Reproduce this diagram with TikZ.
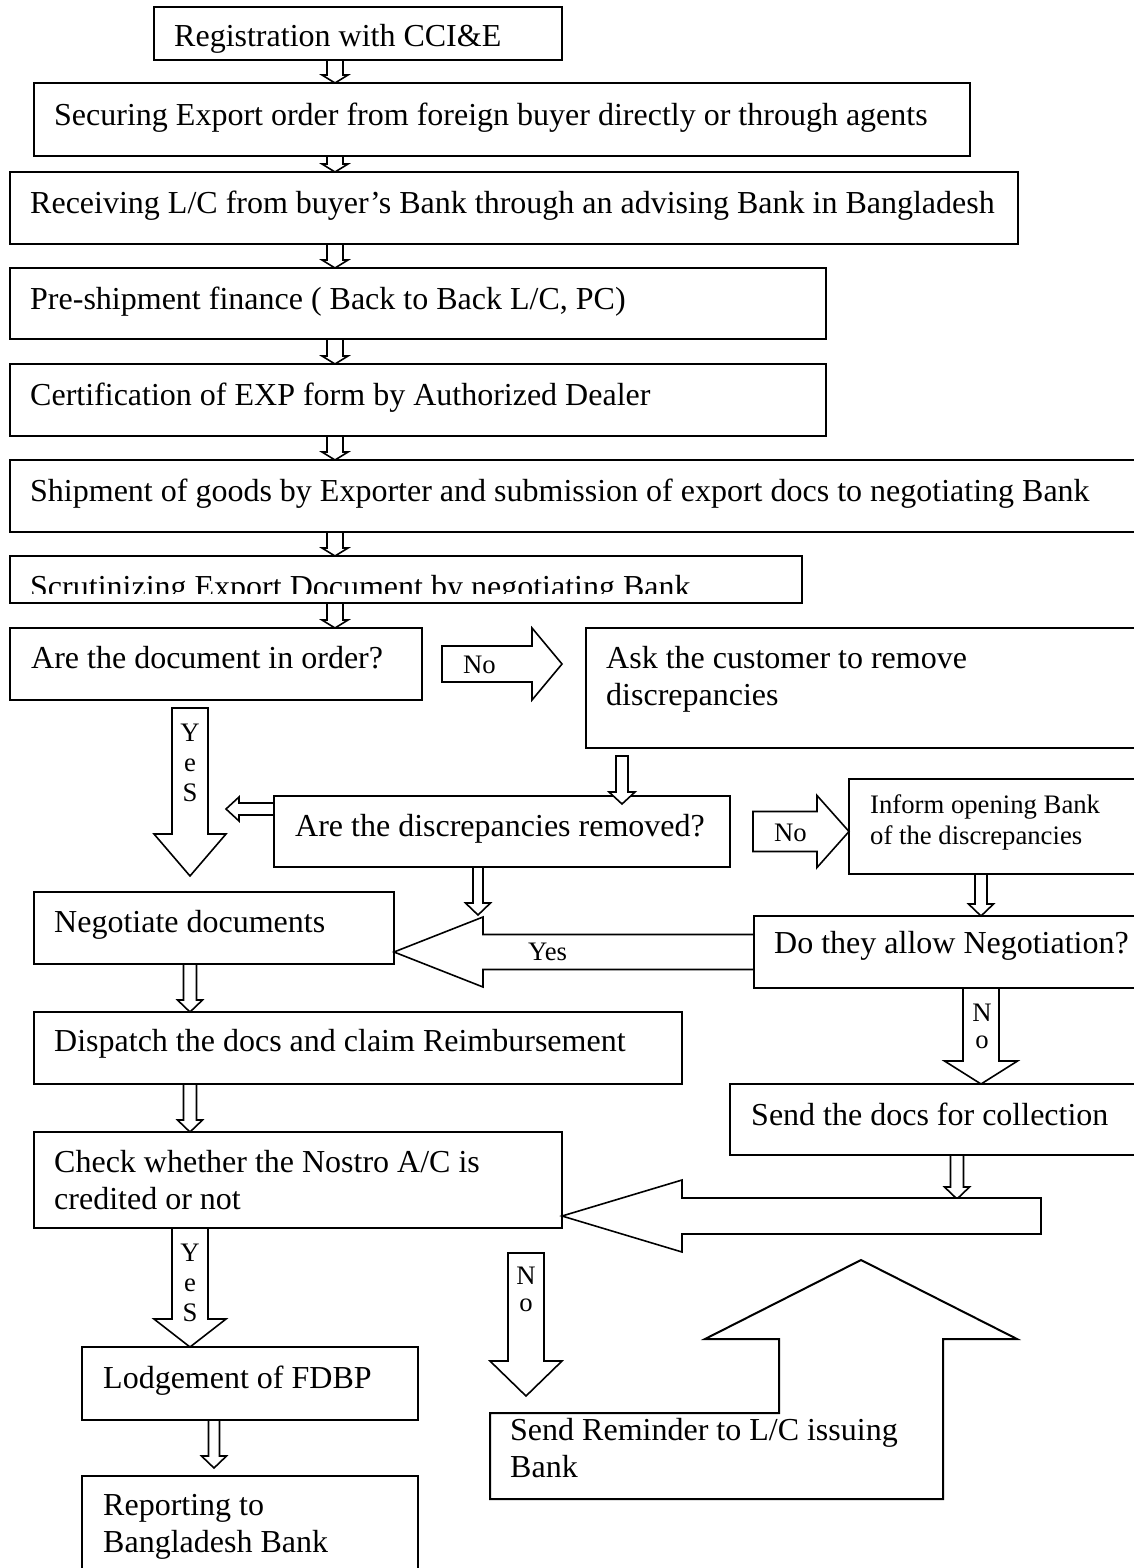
\documentclass[tikz,border=0pt]{standalone}
\usepackage{fontspec}
\setmainfont{Liberation Serif}
\usetikzlibrary{calc}
\newcommand{\mainsize}{\fontsize{32}{36.8}\selectfont}
\newcommand{\smallsize}{\fontsize{26.7}{30.7}\selectfont}
% hollow block arrow: from, to, shaft half width, head half width, head length
\newcommand{\blockarrow}[5]{%
  \coordinate (ba-a) at (#1);
  \coordinate (ba-b) at (#2);
  \coordinate (ba-h) at ($(ba-b)!#5!(ba-a)$);
  \filldraw[blockarrow] ($(ba-a)!#3!90:(ba-b)$) -- ($(ba-h)!#3!90:(ba-b)$)
    -- ($(ba-h)!#4!90:(ba-b)$) -- (ba-b) -- ($(ba-h)!#4!-90:(ba-b)$)
    -- ($(ba-h)!#3!-90:(ba-b)$) -- ($(ba-a)!#3!-90:(ba-b)$) -- cycle;}

\begin{document}
\begin{tikzpicture}[x=1pt, y=-1pt,
    stepbox/.style={draw, line width=2.4pt, rectangle, anchor=north west, inner sep=0pt, outer sep=0pt},
    steptext/.style={anchor=base west, inner sep=0pt, align=left, font=\mainsize},
    arrowtext/.style={inner sep=0pt, font=\smallsize},
    stacked/.style={arrowtext, anchor=north, align=center},
    blockarrow/.style={draw, fill=white, line width=1.6pt, line join=miter}]
    \path[use as bounding box, fill=white] (0,0) rectangle (1133,1568);

    % Columns the arrows run along
    \coordinate (spine) at (335,0);
    \coordinate (leftcol) at (190,0);
    \coordinate (midcol) at (478,0);
    \coordinate (askcol) at (622,0);
    \coordinate (rightcol) at (981,0);
    \coordinate (collcol) at (957,0);
    \coordinate (nocol) at (526,0);
    \coordinate (lodgecol) at (214,0);
    \coordinate (upshaft) at (779,0);
    \coordinate (upbase) at (0,1339);
    \coordinate (backstart) at (1041,1216);
    \coordinate (uptip) at (861,1260);

    % Main sequence (multi-line texts are placed by their last line)
    \node[stepbox, minimum width=408, minimum height=53] (reg) at (154,7) {};
    \node[steptext] (reg-t) at ([shift={(20,40)}]reg.north west) {Registration with CCI\&E};
    \node[stepbox, minimum width=936, minimum height=73] (secure) at (34,83) {};
    \node[steptext] (secure-t) at ([shift={(20,42)}]secure.north west) {Securing Export order from foreign buyer directly or through agents};
    \node[stepbox, minimum width=1008, minimum height=72] (receive) at (10,172) {};
    \node[steptext] (receive-t) at ([shift={(20,41)}]receive.north west) {Receiving L/C from buyer’s Bank through an advising Bank in Bangladesh};
    \node[stepbox, minimum width=816, minimum height=71] (preship) at (10,268) {};
    \node[steptext] (preship-t) at ([shift={(20,41)}]preship.north west) {Pre-shipment finance ( Back to Back L/C, PC)};
    \node[stepbox, minimum width=816, minimum height=72] (certify) at (10,364) {};
    \node[steptext] (certify-t) at ([shift={(20,41)}]certify.north west) {Certification of EXP form by Authorized Dealer};
    \node[stepbox, minimum width=1130, minimum height=72] (shipment) at (10,460) {};
    \node[steptext] (shipment-t) at ([shift={(20,41)}]shipment.north west) {Shipment of goods by Exporter and submission of export docs to negotiating Bank};
    \node[stepbox, minimum width=792, minimum height=47] (scrutiny) at (10,556) {};
    \begin{scope}
        \clip (scrutiny.north west) rectangle ([yshift=10pt]scrutiny.south east);
        \node[steptext] (scrutiny-t) at ([shift={(20,41)}]scrutiny.north west) {Scrutinizing Export Document by negotiating Bank};
    \end{scope}

    % Checking the documents
    \node[stepbox, minimum width=412, minimum height=72] (inorder) at (10,628) {};
    \node[steptext] (inorder-t) at ([shift={(21,40)}]inorder.north west) {Are the document in order?};
    \node[stepbox, minimum width=554, minimum height=120] (askcust) at (586,628) {};
    \node[steptext] (askcust-t) at ([shift={(20,77)}]askcust.north west) {Ask the customer to remove\\discrepancies};
    \node[stepbox, minimum width=456, minimum height=71] (removed) at (274,796) {};
    \node[steptext] (removed-t) at ([shift={(21,40)}]removed.north west) {Are the discrepancies removed?};
    \node[stepbox, minimum width=291, minimum height=95] (inform) at (849,779) {};
    \node[steptext, font=\smallsize] (inform-t) at ([shift={(21,65)}]inform.north west) {Inform opening Bank\\of the discrepancies};
    \node[stepbox, minimum width=360, minimum height=72] (negotiate) at (34,892) {};
    \node[steptext] (negotiate-t) at ([shift={(20,40)}]negotiate.north west) {Negotiate documents};
    \node[stepbox, minimum width=386, minimum height=72] (allow) at (754,916) {};
    \node[steptext] (allow-t) at ([shift={(20,37)}]allow.north west) {Do they allow Negotiation?};
    \node[stepbox, minimum width=648, minimum height=72] (dispatch) at (34,1012) {};
    \node[steptext] (dispatch-t) at ([shift={(20,39)}]dispatch.north west) {Dispatch the docs and claim Reimbursement};
    \node[stepbox, minimum width=410, minimum height=71] (collect) at (730,1084) {};
    \node[steptext] (collect-t) at ([shift={(21,41)}]collect.north west) {Send the docs for collection};
    \node[stepbox, minimum width=528, minimum height=96] (nostro) at (34,1132) {};
    \node[steptext] (nostro-t) at ([shift={(20,77)}]nostro.north west) {Check whether the Nostro A/C is\\credited or not};
    \node[stepbox, minimum width=336, minimum height=73] (lodge) at (82,1347) {};
    \node[steptext] (lodge-t) at ([shift={(21,41)}]lodge.north west) {Lodgement of FDBP};
    \node[stepbox, minimum width=336, minimum height=100] (report) at (82,1476) {};
    \node[steptext] (report-t) at ([shift={(21,76)}]report.north west) {Reporting to\\Bangladesh Bank};
    \node[stepbox, draw=none, minimum width=453, minimum height=86] (remind) at (490,1413) {};

    % Small arrows down the main sequence
    \blockarrow{reg.south -| spine}{secure.north -| spine}{8pt}{13pt}{8pt}
    \blockarrow{secure.south -| spine}{receive.north -| spine}{8pt}{13pt}{8pt}
    \blockarrow{receive.south -| spine}{preship.north -| spine}{8pt}{13pt}{8pt}
    \blockarrow{preship.south -| spine}{certify.north -| spine}{8pt}{13pt}{8pt}
    \blockarrow{certify.south -| spine}{shipment.north -| spine}{8pt}{13pt}{8pt}
    \blockarrow{shipment.south -| spine}{scrutiny.north -| spine}{8pt}{13pt}{8pt}
    \blockarrow{scrutiny.south -| spine}{inorder.north -| spine}{8pt}{13pt}{8pt}

    % Decisions
    \blockarrow{[xshift=20pt]inorder.east}{[xshift=-24pt]askcust.west |- inorder.east}{18pt}{36pt}{30pt}
    \node[arrowtext, anchor=base west] (no1-t) at (463,673) {No};
    \blockarrow{[yshift=-8pt]inorder.south -| leftcol}{[yshift=16pt]negotiate.north -| leftcol}{18pt}{36pt}{42pt}
    \node[stacked, font=\fontsize{26.7}{30}\selectfont] (yes1-t) at (190,724) {Y\\e\\S};
    \blockarrow{[yshift=-8pt]askcust.south -| askcol}{[yshift=-8pt]removed.north -| askcol}{6pt}{13pt}{12pt}
    \blockarrow{[shift={(0,13)}]removed.north west}{[shift={(-48,13)}]removed.north west}{6pt}{12pt}{13pt}
    \blockarrow{[xshift=23pt]removed.east}{inform.west |- removed.east}{20pt}{36pt}{32pt}
    \node[arrowtext, anchor=base west] (no2-t) at (774,841) {No};
    \blockarrow{inform.south -| rightcol}{allow.north -| rightcol}{6pt}{12.5pt}{12pt}
    \blockarrow{removed.south -| midcol}{[yshift=-48pt]removed.south -| midcol}{5pt}{12.5pt}{12pt}
    \blockarrow{allow.west}{negotiate.east |- allow.west}{17.5pt}{35pt}{89pt}
    \node[arrowtext, anchor=base west] (yes2-t) at (528,960) {Yes};
    \blockarrow{negotiate.south -| leftcol}{dispatch.north -| leftcol}{6.5pt}{12.5pt}{12pt}
    \blockarrow{allow.south -| rightcol}{collect.north -| rightcol}{18pt}{36.5pt}{23pt}
    \node[stacked, font=\fontsize{26.7}{27}\selectfont] (no3-t) at (982,1004) {N\\o};
    \blockarrow{dispatch.south -| leftcol}{nostro.north -| leftcol}{6.5pt}{12.5pt}{12pt}
    \blockarrow{collect.south -| collcol}{[yshift=-44pt]collect.south -| collcol}{6.5pt}{12.5pt}{12pt}
    \blockarrow{backstart}{nostro.east |- backstart}{18pt}{36pt}{120pt}

    % Nostro account
    \blockarrow{nostro.south -| leftcol}{lodge.north -| leftcol}{18pt}{36pt}{28pt}
    \node[stacked, font=\fontsize{26.7}{30}\selectfont] (yes3-t) at (190,1244) {Y\\e\\S};
    \blockarrow{[yshift=-25pt]nostro.south -| nocol}{[yshift=17pt]remind.north -| nocol}{18pt}{36pt}{35pt}
    \node[stacked, font=\fontsize{26.7}{27}\selectfont] (no4-t) at (526,1267) {N\\o};
    \blockarrow{lodge.south -| lodgecol}{[yshift=8pt]report.north -| lodgecol}{5.5pt}{12.5pt}{12pt}

    % Reminder box merged with the big arrow back up
    \draw[blockarrow, line width=2pt] (remind.south east) -- (remind.south west) -- (remind.north west)
        -- (remind.north -| upshaft) -- (upshaft |- upbase) -- ([xshift=-74pt]upshaft |- upbase)
        -- (uptip) -- ([xshift=74pt]remind.east |- upbase) -- (remind.east |- upbase) -- cycle;
    \node[steptext] (remind-t) at ([shift={(20,64)}]remind.north west) {Send Reminder to L/C issuing\\Bank};
\end{tikzpicture}
\end{document}
